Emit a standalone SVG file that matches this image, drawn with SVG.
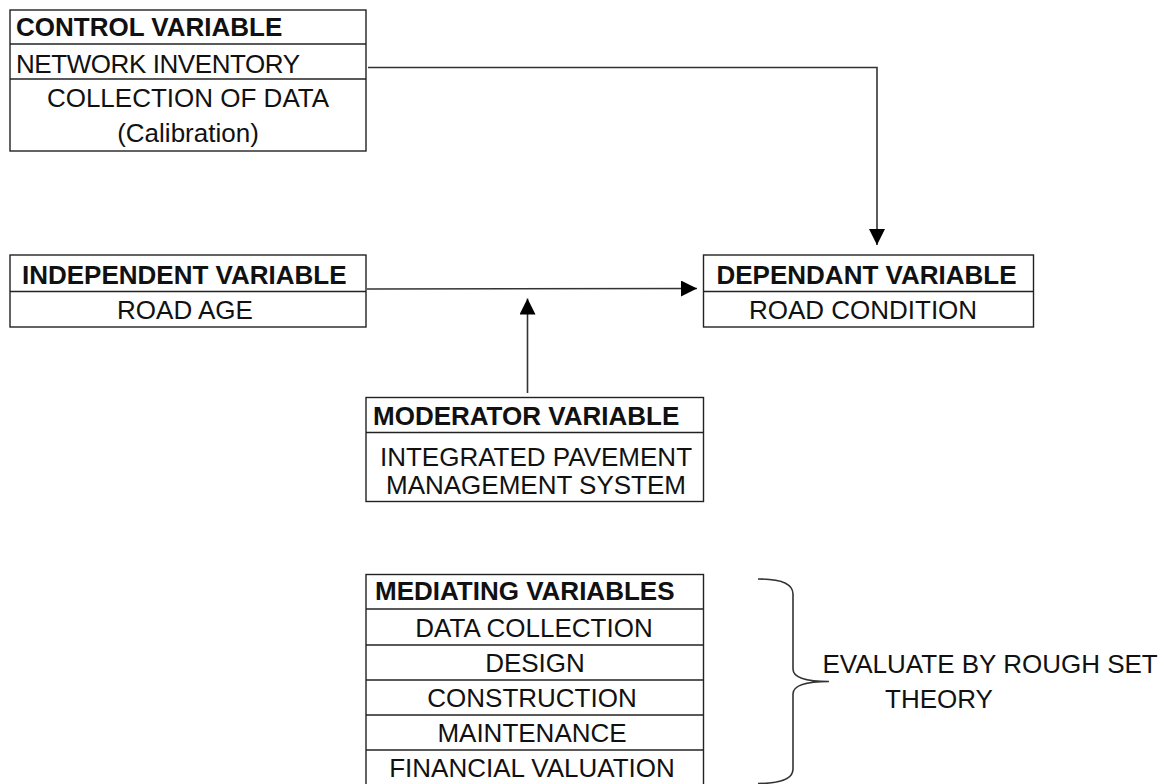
<svg xmlns="http://www.w3.org/2000/svg" width="1164" height="784" viewBox="0 0 1164 784">
  <defs>
    <style>
      .box { fill: #ffffff; stroke: #222222; stroke-width: 1.4; }
      .div { stroke: #222222; stroke-width: 1.4; fill: none; }
      .hd { font-family: "Liberation Sans", Arial, sans-serif; font-size: 26px; font-weight: bold; fill: #111111; }
      .tx { font-family: "Liberation Sans", Arial, sans-serif; font-size: 26px; fill: #111111; }
      .mid { text-anchor: middle; }
      .wire { stroke: #333333; stroke-width: 1.6; fill: none; }
      .brace { stroke: #333333; stroke-width: 1.6; fill: none; }
    </style>
    <marker id="arrow" viewBox="0 0 16 16" refX="16" refY="8" markerWidth="16" markerHeight="16" markerUnits="userSpaceOnUse" orient="auto">
      <path d="M0,0 L16,8 L0,16 Z" fill="#000000"/>
    </marker>
  </defs>

  <rect width="1164" height="784" fill="#ffffff"/>

  <!-- connectors -->
  <g id="connectors">
    <path class="wire" d="M368,67.5 L877,67.5 L877,245" marker-end="url(#arrow)"/>
    <path class="wire" d="M367,289 L697,288.5" marker-end="url(#arrow)"/>
    <path class="wire" d="M527.5,393 L527.5,298.5" marker-end="url(#arrow)"/>
  </g>

  <!-- control variable -->
  <g id="control">
    <rect class="box" x="10" y="10" width="356" height="141"/>
    <line class="div" x1="10" y1="44" x2="366" y2="44"/>
    <line class="div" x1="10" y1="79" x2="366" y2="79"/>
    <text class="hd" x="16" y="36">CONTROL VARIABLE</text>
    <text class="tx" x="16" y="72.5" textLength="284">NETWORK INVENTORY</text>
    <text class="tx mid" x="188" y="107">COLLECTION OF DATA</text>
    <text class="tx mid" x="188" y="141.5">(Calibration)</text>
  </g>

  <!-- independent variable -->
  <g id="independent">
    <rect class="box" x="10" y="255" width="356" height="72"/>
    <line class="div" x1="10" y1="291.5" x2="366" y2="291.5"/>
    <text class="hd" x="22" y="283.5">INDEPENDENT VARIABLE</text>
    <text class="tx mid" x="185" y="318.5">ROAD AGE</text>
  </g>

  <!-- dependent variable -->
  <g id="dependent">
    <rect class="box" x="703.5" y="255" width="330" height="72"/>
    <line class="div" x1="703.5" y1="291.5" x2="1033.5" y2="291.5"/>
    <text class="hd" x="716.5" y="283.5">DEPENDANT VARIABLE</text>
    <text class="tx mid" x="863" y="318.5">ROAD CONDITION</text>
  </g>

  <!-- moderator variable -->
  <g id="moderator">
    <rect class="box" x="366" y="397.5" width="337.5" height="104"/>
    <line class="div" x1="366" y1="432.5" x2="703.5" y2="432.5"/>
    <text class="hd" x="373" y="425">MODERATOR VARIABLE</text>
    <text class="tx mid" x="536" y="466">INTEGRATED PAVEMENT</text>
    <text class="tx mid" x="536" y="494">MANAGEMENT SYSTEM</text>
  </g>

  <!-- mediating variables -->
  <g id="mediating">
    <rect class="box" x="366" y="574.5" width="337.5" height="212"/>
    <line class="div" x1="366" y1="609" x2="703.5" y2="609"/>
    <line class="div" x1="366" y1="645" x2="703.5" y2="645"/>
    <line class="div" x1="366" y1="680" x2="703.5" y2="680"/>
    <line class="div" x1="366" y1="715" x2="703.5" y2="715"/>
    <line class="div" x1="366" y1="750" x2="703.5" y2="750"/>
    <text class="hd" x="375" y="600">MEDIATING VARIABLES</text>
    <text class="tx mid" x="534" y="636.5">DATA COLLECTION</text>
    <text class="tx mid" x="535" y="671.5">DESIGN</text>
    <text class="tx mid" x="532" y="706.5">CONSTRUCTION</text>
    <text class="tx mid" x="532" y="741.5">MAINTENANCE</text>
    <text class="tx mid" x="532" y="776.5">FINANCIAL VALUATION</text>
  </g>

  <!-- brace with evaluation note -->
  <g id="evaluation">
    <path class="brace" d="M758,579 Q793,579 793,594 L793,669 Q793,681.5 829,681.5 Q793,681.5 793,694 L793,769 Q793,783.5 758,783.5"/>
    <text class="tx" x="822.5" y="672.5">EVALUATE BY ROUGH SET</text>
    <text class="tx" x="885" y="707.5">THEORY</text>
  </g>
</svg>
